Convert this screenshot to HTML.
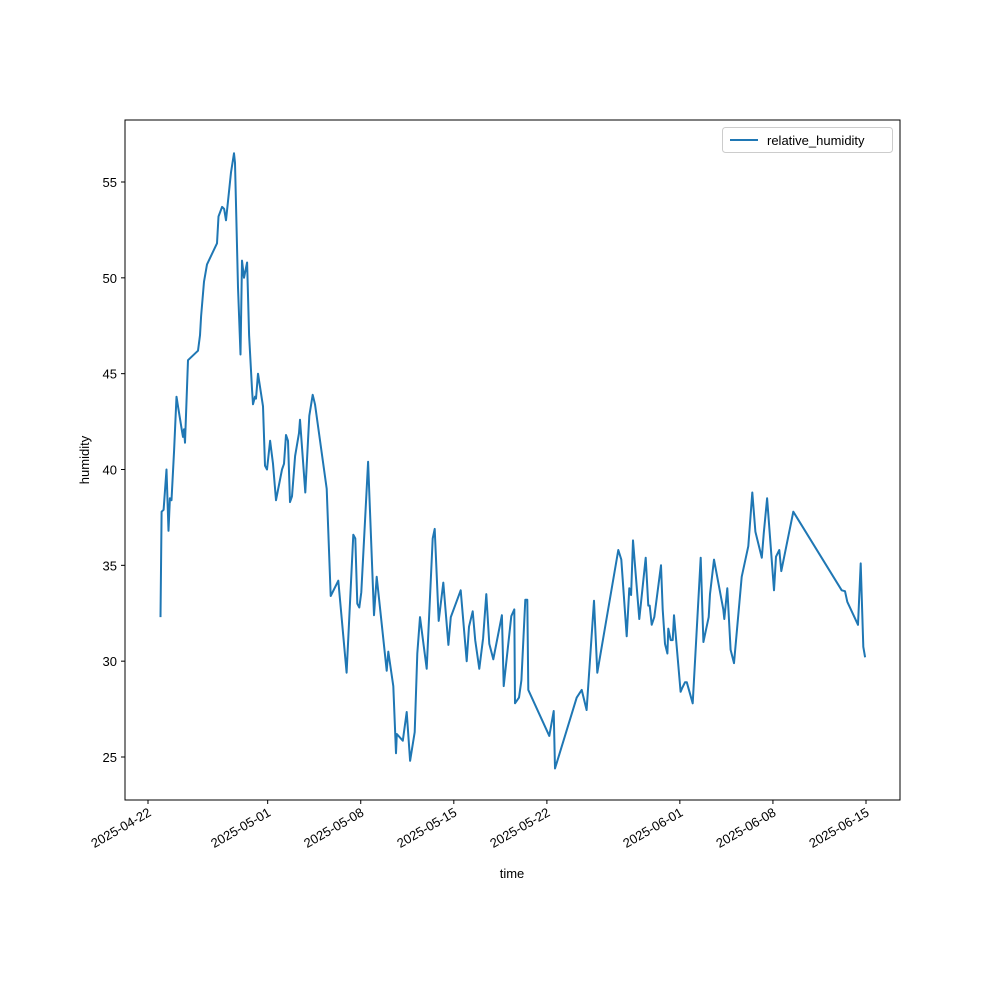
<!DOCTYPE html>
<html><head><meta charset="utf-8"><style>
body{margin:0;background:#fff}
svg text{font-family:"Liberation Sans","DejaVu Sans",sans-serif;font-size:13px;fill:#000}
</style></head><body>
<svg id="chart" width="1000" height="1000" viewBox="0 0 1000 1000">
<rect x="125" y="120" width="775" height="680" fill="none" stroke="#000" stroke-width="1"/>
<g id="xt"></g><g id="yt"></g>
<path id="line" fill="none" stroke="#1f77b4" stroke-width="2" stroke-linejoin="round"/>
<text x="512" y="878" text-anchor="middle">time</text>
<text transform="translate(89,460) rotate(-90)" text-anchor="middle">humidity</text>
<g>
<rect x="722.5" y="127.5" width="170" height="25" rx="3" fill="#fff" stroke="#ccc"/>
<line x1="730" y1="140" x2="758" y2="140" stroke="#1f77b4" stroke-width="2"/>
<text x="767" y="145">relative_humidity</text>
</g>
</svg>
<script>
const days=[0.94,1.02,1.17,1.39,1.54,1.65,1.77,1.96,2.14,2.26,2.56,2.63,2.71,2.78,3.01,3.76,3.91,3.99,4.21,4.44,5.19,5.30,5.57,5.72,5.87,6.02,6.24,6.47,6.54,6.77,6.96,7.07,7.22,7.45,7.60,7.82,7.90,8.05,8.12,8.27,8.65,8.80,8.95,9.18,9.40,9.63,10.08,10.23,10.38,10.53,10.68,10.83,11.06,11.36,11.43,11.83,12.13,12.39,12.56,13.44,13.74,14.31,14.94,15.12,15.44,15.59,15.74,15.89,16.04,16.55,17.00,17.20,17.95,18.07,18.45,18.65,18.71,19.16,19.46,19.71,20.06,20.25,20.46,20.96,21.41,21.56,21.86,22.21,22.59,22.77,23.52,23.97,24.14,24.42,24.61,24.92,25.20,25.44,25.67,25.97,26.62,26.75,27.32,27.55,27.60,27.90,28.08,28.38,28.53,28.60,30.18,30.51,30.61,32.24,32.62,32.99,33.54,33.79,35.37,35.60,36.00,36.20,36.33,36.48,36.95,37.43,37.63,37.73,37.88,38.08,38.58,38.71,38.88,39.06,39.13,39.31,39.46,39.56,40.06,40.18,40.39,40.52,40.97,41.57,41.77,42.17,42.27,42.57,43.27,43.34,43.57,43.82,44.07,44.65,45.15,45.45,45.68,46.16,46.31,46.56,47.08,47.23,47.48,47.63,48.53,52.17,52.42,52.59,53.40,53.60,53.80,53.93];
const humidity=[32.3,37.8,37.9,40.0,36.8,38.5,38.4,41.0,43.8,43.3,42.0,41.7,42.1,41.4,45.7,46.2,47.0,48.0,49.8,50.7,51.8,53.2,53.7,53.6,53.0,54.0,55.5,56.5,56.0,49.5,46.0,50.9,50.0,50.8,47.0,44.2,43.4,43.8,43.7,45.0,43.3,40.2,40.0,41.5,40.3,38.4,40.0,40.3,41.8,41.5,38.3,38.6,40.7,41.9,42.6,38.8,42.8,43.9,43.4,39.0,33.4,34.2,29.4,31.97,36.6,36.4,33.0,32.8,33.6,40.4,32.4,34.4,29.5,30.5,28.7,25.2,26.2,25.85,27.35,24.8,26.3,30.4,32.3,29.6,36.4,36.9,32.1,34.1,30.85,32.3,33.7,30.0,31.8,32.6,31.1,29.6,31.2,33.5,30.9,30.1,32.4,28.7,32.35,32.7,27.8,28.1,29.0,33.2,33.2,28.5,26.1,27.4,24.4,28.1,28.5,27.45,33.15,29.4,35.8,35.3,31.3,33.8,33.45,36.3,32.2,35.4,32.9,32.9,31.9,32.3,35.0,32.7,30.9,30.4,31.7,31.1,31.1,32.4,28.4,28.6,28.9,28.9,27.8,35.4,31.0,32.3,33.5,35.3,32.7,32.2,33.8,30.6,29.9,34.4,36.0,38.8,36.75,35.4,36.7,38.5,33.7,35.45,35.8,34.7,37.8,33.7,33.65,33.1,31.9,35.1,30.75,30.2];
const xTickDays=[0,9,16,23,30,40,47,54];
const xTickLabels=["2025-04-22","2025-05-01","2025-05-08","2025-05-15","2025-05-22","2025-06-01","2025-06-08","2025-06-15"];
const yTicks=[25,30,35,40,45,50,55];
const X=d=>148+d*(866-148)/54;
const Y=v=>757-(v-25)*(757-182)/30;
const NS="http://www.w3.org/2000/svg";
const xt=document.getElementById('xt'),yt=document.getElementById('yt');
xTickDays.forEach((d,i)=>{
  const x=X(d);
  const l=document.createElementNS(NS,'line');
  l.setAttribute('x1',x);l.setAttribute('x2',x);l.setAttribute('y1',800);l.setAttribute('y2',804);l.setAttribute('stroke','#000');
  
  
  xt.appendChild(l);
  const t=document.createElementNS(NS,'text');
  t.setAttribute('transform',`translate(${x+4},${815}) rotate(-30)`);
  t.setAttribute('text-anchor','end');
  t.textContent=xTickLabels[i];
  
  
  xt.appendChild(t);
});
yTicks.forEach(v=>{
  const y=Y(v);
  const l=document.createElementNS(NS,'line');
  l.setAttribute('x1',121);l.setAttribute('x2',125);l.setAttribute('y1',y);l.setAttribute('y2',y);l.setAttribute('stroke','#000');
  
  
  yt.appendChild(l);
  const t=document.createElementNS(NS,'text');
  t.setAttribute('x',117);t.setAttribute('y',y+5);t.setAttribute('text-anchor','end');
  t.textContent=v;
  
  
  yt.appendChild(t);
});
document.getElementById('line').setAttribute('d',days.map((d,i)=>(i?'L':'M')+X(d).toFixed(1)+' '+Y(humidity[i]).toFixed(1)).join(''));
</script>
</body></html>
